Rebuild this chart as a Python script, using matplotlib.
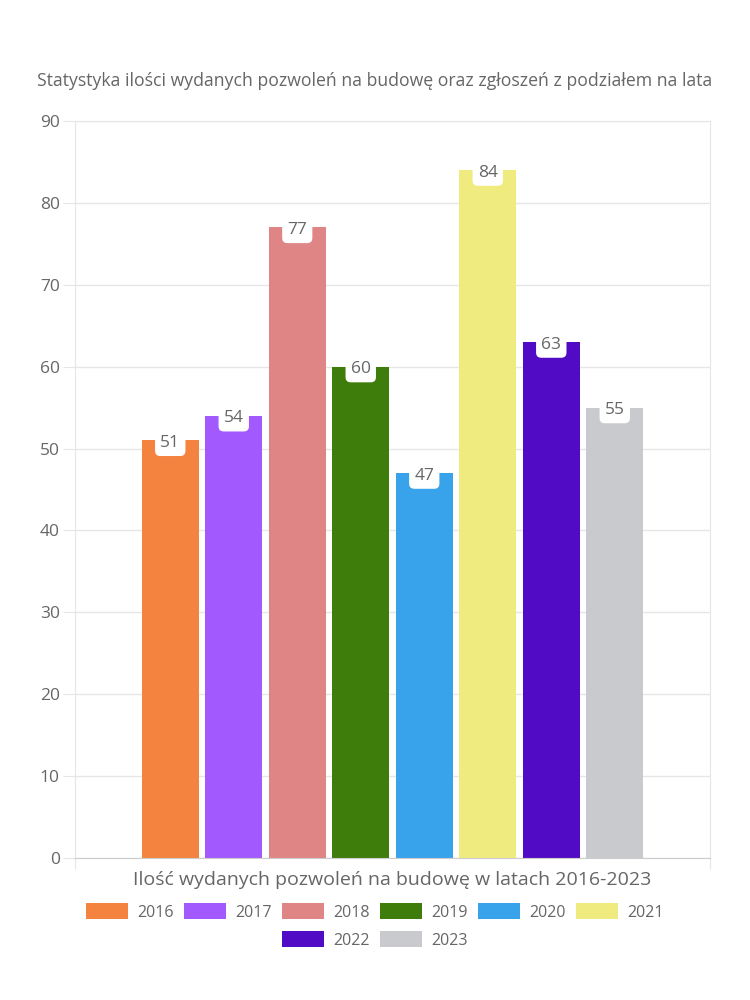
import matplotlib
matplotlib.use("Agg")
import matplotlib.pyplot as plt
from matplotlib.patches import Patch

years = ["2016", "2017", "2018", "2019", "2020", "2021", "2022", "2023"]
values = [51, 54, 77, 60, 47, 84, 63, 55]
colors = ["#f4833f", "#a259fd", "#e08585", "#3e7c0b", "#38a3eb", "#f0eb7e", "#520bc4", "#c9cacd"]
yticks = [0, 10, 20, 30, 40, 50, 60, 70, 80, 90]
title = "Statystyka ilości wydanych pozwoleń na budowę oraz zgłoszeń z podziałem na lata"
xlabel = "Ilość wydanych pozwoleń na budowę w latach 2016-2023"

plt.rcParams['font.family'] = ['Open Sans', 'DejaVu Sans']
txt = "#666666"
gridc = "#e6e6e6"

fig = plt.figure(figsize=(7.5, 10), dpi=100)
ax = fig.add_axes([0.1, 0.142, 0.8467, 0.737])

n = len(years)
step = 0.1
width = 0.09
for i, (y, v, c) in enumerate(zip(years, values, colors)):
    x = -step * (n - 1) / 2 + i * step
    ax.bar(x, v, width=width, color=c, zorder=2)
    ax.text(x, v - 0.3, str(v), ha='center', va='center', fontsize=12.5, color=txt, zorder=4,
            bbox=dict(boxstyle="round,pad=0.3,rounding_size=0.3", fc="white", ec="none"))

ax.set_xlim(-0.5, 0.5)
ax.set_ylim(0, 90)
ax.set_yticks(yticks)
ax.set_yticklabels([str(t) for t in yticks], fontsize=12.5, color=txt)
ax.set_xticks([-0.5, 0.5])
ax.set_xticklabels(["", ""])
ax.tick_params(axis='y', length=9, color=gridc, pad=2)
ax.tick_params(axis='x', length=8, color=gridc)
ax.grid(axis='y', color=gridc, linewidth=1, zorder=0)
for s in ax.spines.values():
    s.set_color(gridc)
ax.spines['bottom'].set_color("#cccccc")
ax.set_axisbelow(True)

fig.text(0.5, 0.919, title, ha='center', va='center', fontsize=12.7, color=txt)
fig.text(0.523, 0.12, xlabel, ha='center', va='center', fontsize=14, color=txt)

handles = [Patch(facecolor=c, edgecolor='none') for c in colors]
kw = dict(frameon=False, fontsize=11.5, handlelength=2.6, handleheight=1.1,
          columnspacing=0.65, handletextpad=0.6, labelcolor=txt)
fig.legend(handles[:6], years[:6], ncol=6, loc='center', bbox_to_anchor=(0.5, 0.088), **kw)
fig.legend(handles[6:], years[6:], ncol=2, loc='center', bbox_to_anchor=(0.5, 0.060), **kw)

fig.savefig("out.png", dpi=100, facecolor="white")
